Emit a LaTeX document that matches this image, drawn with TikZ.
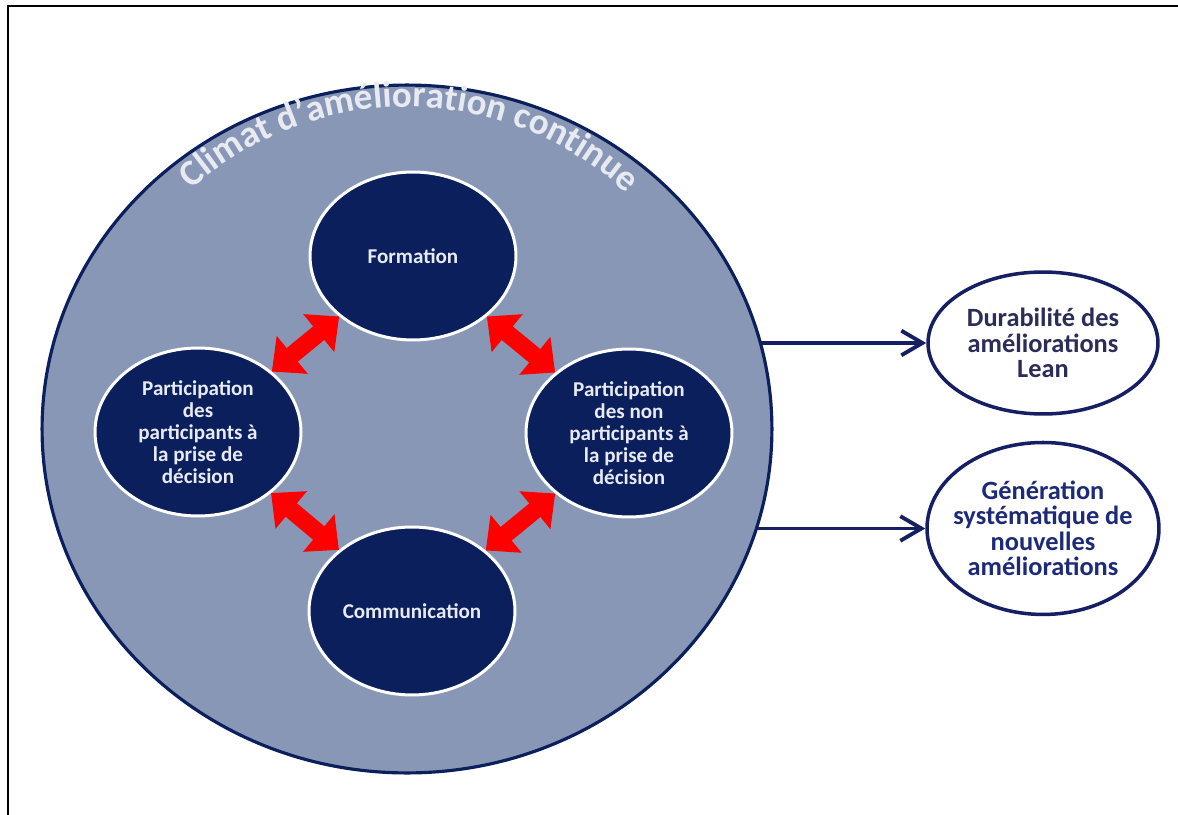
\documentclass[tikz,border=0pt]{standalone}
\usepackage{fontspec}
\setmainfont{Carlito}
\usetikzlibrary{shapes.geometric, arrows.meta, positioning, decorations.text, backgrounds}

\definecolor{navy}{RGB}{10,31,92}
\definecolor{climat}{RGB}{137,151,182}
\definecolor{txtlight}{RGB}{232,234,242}
\definecolor{durtxt}{RGB}{44,44,88}
\definecolor{gentxt}{RGB}{28,42,120}
\definecolor{outline}{RGB}{22,30,100}

\begin{document}
\begin{tikzpicture}[
				x=0.02cm, y=0.02cm,
				redarrow/.style={
					draw=red, line width=10pt,
					{Triangle[length=15pt,width=27pt]}-{Triangle[length=15pt,width=27pt]}
				},
				outarrow/.style={
					draw=outline, line width=2.2pt,
					-{Straight Barb[length=12pt,width=14pt]}
				}
			]
			\tikzstyle{BigNode} = [ %the climate circle around everything
				ellipse,
				draw=navy, line width=1.8pt,
				fill=climat,
				minimum width=14.6cm, minimum height=13.76cm
			]
			\tikzstyle{InNode} = [
				ellipse,
				draw=white, line width=1.7pt,
				fill=navy, text=txtlight,
				minimum width=4.12cm, minimum height=3.36cm,
				inner sep=0pt, align=center,
				font=\fontsize{12}{12.5}\selectfont\bfseries
			]
			\tikzstyle{OutNode} = [
				ellipse,
				draw=outline, line width=2pt,
				fill=white,
				inner sep=0pt, align=center,
				font=\fontsize{15}{14.5}\selectfont\bfseries
			]
			
			\useasboundingbox (0,0) rectangle (1178,-815);
			\draw[line width=1.2pt] (8,-815) -- (8,-6) -- (1178,-6);
			
			\node (big) [BigNode] at (407,-429) {};
			\path[decorate, decoration={text along path,
					text={|\fontsize{21}{21}\selectfont\bfseries|Climat d'amélioration continue},
					text color=txtlight, text align=center}]
				(big.center) ++(140:322) arc[start angle=140, end angle=39, radius=322];
			
			\node (form) [InNode] at (413,-256) {Formation};
			\node (partA) [InNode] at (198,-432) {Participation\\des\\participants à\\la prise de\\décision};
			\node (partB) [InNode] at (629,-433) {Participation\\des non\\participants à\\la prise de\\décision};
			\node (comm) [InNode] at (412,-611) {Communication};
			
			\draw[redarrow] (form) -- (partA);
			\draw[redarrow] (form) -- (partB);
			\draw[redarrow] (partA) -- (comm);
			\draw[redarrow] (partB) -- (comm);
			
			\node (dur) [OutNode, text=durtxt, minimum width=4.6cm, minimum height=2.84cm] at (1043,-343) {Durabilité des\\améliorations\\Lean};
			\node (gen) [OutNode, text=gentxt, minimum width=4.64cm, minimum height=3.44cm, inner xsep=-12pt, below=0.5cm of dur] {Génération\\systématique de\\nouvelles\\améliorations};
			
			\begin{scope}[on background layer]
				\draw[outarrow] (big.center |- dur.west) -- (dur.west);
				\draw[outarrow] (big.center |- gen.west) -- (gen.west);
			\end{scope}
		\end{tikzpicture}
\end{document}
